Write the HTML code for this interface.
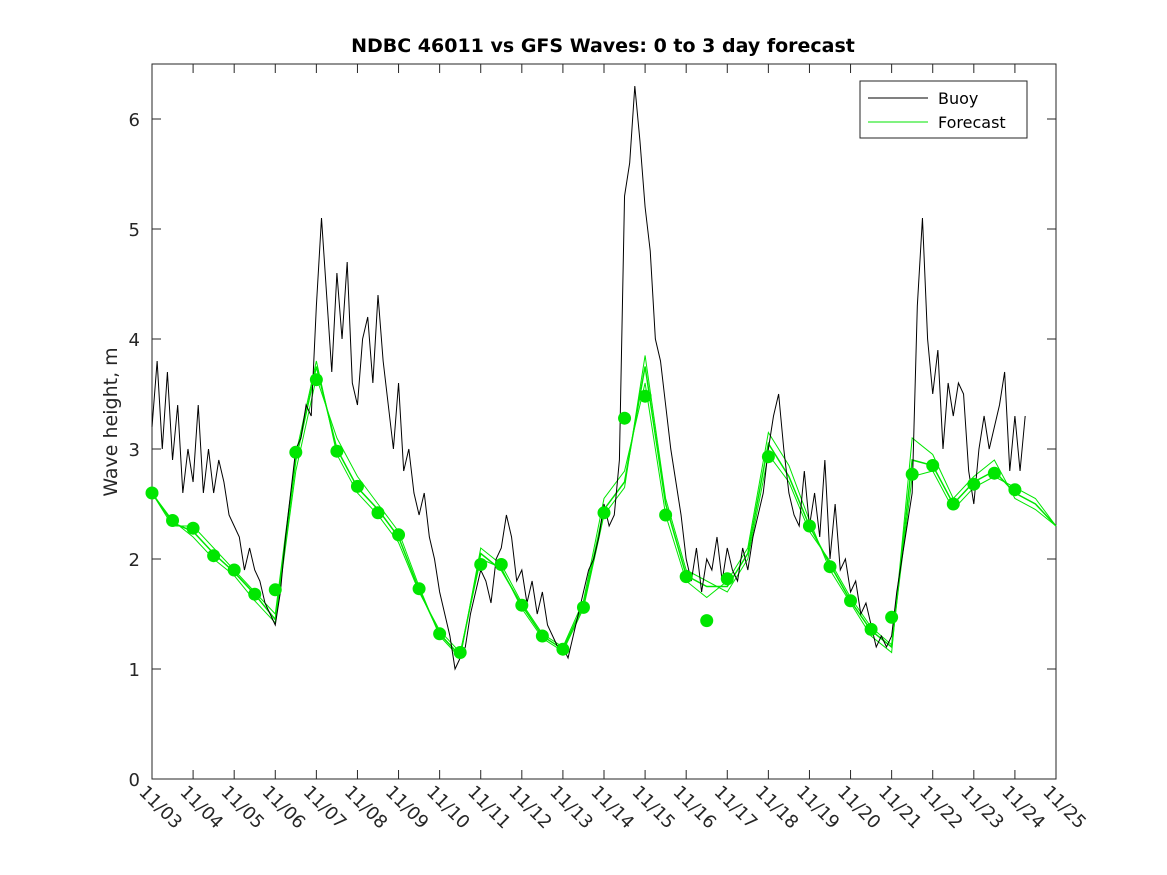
<!DOCTYPE html>
<html><head><meta charset="utf-8"><style>
body{margin:0;background:#fff}
svg{display:block;font-family:"DejaVu Sans","Liberation Sans",sans-serif}
</style></head><body>
<svg id="c" width="1167" height="875" viewBox="0 0 1167 875">
<rect width="1167" height="875" fill="#fff"/>
<g id="plot"></g>
<text x="603" y="52" text-anchor="middle" font-size="19" font-weight="bold">NDBC 46011 vs GFS Waves: 0 to 3 day forecast</text>
<text transform="translate(117,422) rotate(-90)" text-anchor="middle" font-size="19" fill="#262626">Wave height, m</text>
<g>
<rect x="860" y="81" width="167" height="57" fill="#fff" stroke="#262626" stroke-width="1"/>
<line x1="868" y1="98" x2="928" y2="98" stroke="#000" stroke-width="1"/>
<text x="938" y="104" font-size="16" fill="#000">Buoy</text>
<line x1="868" y1="122" x2="928" y2="122" stroke="#00e600" stroke-width="1"/>
<text x="938" y="128" font-size="16" fill="#000">Forecast</text>
</g>
</svg>
<script>
const xTickLabels=["11/03","11/04","11/05","11/06","11/07","11/08","11/09","11/10","11/11","11/12","11/13","11/14","11/15","11/16","11/17","11/18","11/19","11/20","11/21","11/22","11/23","11/24","11/25"];
const yTickLabels=[0,1,2,3,4,5,6];
// buoy: 3-hourly samples starting 11/03 00:00
const buoy=[3.2,3.8,3.0,3.7,2.9,3.4,2.6,3.0,
2.7,3.4,2.6,3.0,2.6,2.9,2.7,2.4,
2.3,2.2,1.9,2.1,1.9,1.8,1.6,1.5,
1.4,1.7,2.2,2.6,3.0,3.1,3.4,3.3,
4.3,5.1,4.4,3.7,4.6,4.0,4.7,3.6,
3.4,4.0,4.2,3.6,4.4,3.8,3.4,3.0,
3.6,2.8,3.0,2.6,2.4,2.6,2.2,2.0,
1.7,1.5,1.3,1.0,1.1,1.2,1.5,1.7,
1.9,1.8,1.6,2.0,2.1,2.4,2.2,1.8,
1.9,1.6,1.8,1.5,1.7,1.4,1.3,1.2,
1.2,1.1,1.3,1.5,1.7,1.9,2.0,2.2,
2.5,2.3,2.4,2.9,5.3,5.6,6.3,5.8,
5.2,4.8,4.0,3.8,3.4,3.0,2.7,2.4,
2.0,1.8,2.1,1.7,2.0,1.9,2.2,1.8,
2.1,1.9,1.8,2.1,1.9,2.2,2.4,2.6,
3.0,3.3,3.5,3.0,2.6,2.4,2.3,2.8,
2.3,2.6,2.2,2.9,2.0,2.5,1.9,2.0,
1.7,1.8,1.5,1.6,1.4,1.2,1.3,1.2,
1.3,1.7,2.0,2.3,2.6,4.3,5.1,4.0,
3.5,3.9,3.0,3.6,3.3,3.6,3.5,2.8,
2.5,3.0,3.3,3.0,3.2,3.4,3.7,2.8,
3.3,2.8,3.3];
// forecast: 12-hourly from 11/03
const fcMain=[2.6,2.33,2.25,2.05,1.88,1.68,1.45,2.9,3.75,3.0,2.65,2.45,2.2,1.72,1.32,1.12,2.05,1.9,1.58,1.3,1.18,1.58,2.45,2.7,3.75,2.5,1.85,1.75,1.75,2.05,3.05,2.75,2.3,1.95,1.62,1.35,1.2,2.9,2.85,2.5,2.7,2.8,2.6,2.5,2.3];
const fcAltA=[2.6,2.35,2.2,2.0,1.85,1.62,1.42,2.8,3.65,3.1,2.75,2.5,2.25,1.75,1.3,1.1,2.1,1.95,1.6,1.32,1.2,1.62,2.55,2.8,3.6,2.4,1.8,1.65,1.8,2.1,3.15,2.85,2.35,1.9,1.6,1.3,1.15,3.1,2.95,2.55,2.75,2.9,2.55,2.45,2.3];
const fcAltB=[2.6,2.3,2.3,2.1,1.9,1.7,1.5,2.95,3.8,2.95,2.6,2.4,2.15,1.7,1.35,1.15,2.0,1.92,1.55,1.28,1.16,1.55,2.4,2.65,3.85,2.55,1.9,1.8,1.7,2.0,2.95,2.7,2.25,1.98,1.65,1.38,1.22,2.75,2.8,2.45,2.65,2.75,2.65,2.55,2.3];
const dotDays=[0,0.5,1,1.5,2,2.5,3,3.5,4,4.5,5,5.5,6,6.5,7,7.5,8,8.5,9,9.5,10,10.5,11,11.5,12,12.5,13,13.5,14,15,16,16.5,17,17.5,18,18.5,19,19.5,20,20.5,21];
const dotVals=[2.6,2.35,2.28,2.03,1.9,1.68,1.72,2.97,3.63,2.98,2.66,2.42,2.22,1.73,1.32,1.15,1.95,1.95,1.58,1.3,1.18,1.56,2.42,3.28,3.48,2.4,1.84,1.44,1.82,2.93,2.3,1.93,1.62,1.36,1.47,2.77,2.85,2.5,2.68,2.78,2.63];

const L=152,R=1056,T=64,B=779;
const xs=d=>L+d*(R-L)/22;
const ys=v=>B-v*(B-T)/6.5;
const NS="http://www.w3.org/2000/svg";
const g=document.getElementById('plot');
function mk(t,a,p){const e=document.createElementNS(NS,t);for(const k in a)e.setAttribute(k,a[k]);(p||g).appendChild(e);return e;}

const box=mk('rect',{x:L,y:T,width:R-L,height:B-T,fill:'#fff',stroke:'#262626','stroke-width':1});



yTickLabels.forEach(v=>{
  const y=ys(v);
  mk('line',{x1:L,y1:y,x2:L+9,y2:y,stroke:'#262626'});
  mk('line',{x1:R,y1:y,x2:R-9,y2:y,stroke:'#262626'});
  const t=mk('text',{x:L-12,y:y+7,'text-anchor':'end','font-size':18,fill:'#262626'});
  t.textContent=v;
  
  
});
xTickLabels.forEach((s,i)=>{
  const x=xs(i);
  mk('line',{x1:x,y1:B,x2:x,y2:B-9,stroke:'#262626'});
  mk('line',{x1:x,y1:T,x2:x,y2:T+9,stroke:'#262626'});
  const t=mk('text',{x:0,y:0,transform:`translate(${x-14},${B+14}) rotate(45)`,'font-size':18,fill:'#262626'});
  t.textContent=s;
  
  
});

function line(arr,step,color,w,name){
  const p=mk('polyline',{points:arr.map((v,i)=>xs(i*step)+','+ys(v)).join(' '),fill:'none',stroke:color,'stroke-width':w});
  
  
}
line(fcAltA,0.5,'#00e600',1,'forecast-run-a');
line(fcAltB,0.5,'#00e600',1,'forecast-run-b');
line(fcMain,0.5,'#00e600',1.5,'forecast-line');
line(buoy,0.125,'#000',1,'buoy-line');
dotDays.forEach((d,i)=>{
  const c=mk('circle',{cx:xs(d),cy:ys(dotVals[i]),r:6.5,fill:'#00e600'});
  
  
});
</script>
</body></html>
